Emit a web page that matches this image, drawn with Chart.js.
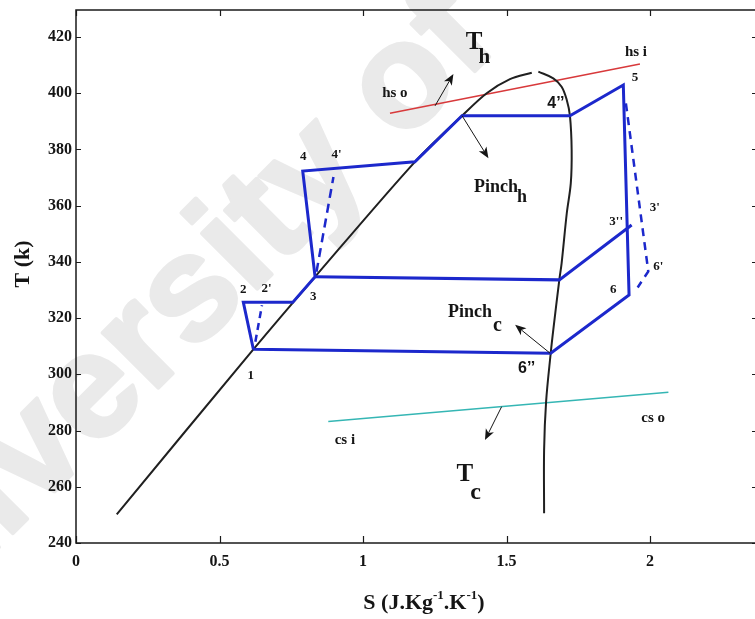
<!DOCTYPE html>
<html>
<head>
<meta charset="utf-8">
<title>T-S diagram</title>
<script src="https://cdn.jsdelivr.net/npm/chart.js@4.4.1/dist/chart.umd.min.js"></script>
<style>
  html, body { margin: 0; padding: 0; background: #fff; overflow: hidden; width: 755px; height: 619px; }
  canvas { display: block; }
</style>
</head>
<body>
<canvas id="ts" width="760" height="619" style="width:760px;height:619px"></canvas>
<script>
// ---- saturation dome ----
const liquidS = [0.142, 0.618, 0.833, 1.181, 1.345, 1.431, 1.512, 1.588];
const liquidT = [250.2, 308.9, 334.7, 375.6, 392.0, 400.0, 405.0, 407.3];
const vapourS = [1.611, 1.663, 1.692, 1.710, 1.721, 1.727, 1.724, 1.710, 1.692, 1.684, 1.663, 1.654, 1.638, 1.631, 1.631];
const vapourT = [407.7, 405.3, 402.3, 397.6, 392.0, 379.8, 368.0, 357.3, 339.5, 333.6, 315.8, 307.5, 290.3, 273.1, 250.6];

// ---- working-fluid cycle: 1 -> 2 -> 3 -> 4 -> 4'' -> 5 -> 6 -> 6'' -> 1 ----
const cycleS = [0.618, 0.583, 0.755, 0.833, 0.790, 1.181, 1.345, 1.721, 1.907, 1.927, 1.654, 0.618];
const cycleT = [308.9, 325.6, 325.6, 334.7, 372.3, 375.6, 392.0, 392.0, 402.9, 328.2, 307.5, 308.9];
// intermediate branch 3 -> 3''
const branchS = [0.833, 1.684, 1.936];
const branchT = [334.7, 333.6, 353.1];
// isentropic (ideal) paths
const ideal2S = [0.625, 0.648];
const ideal2T = [311.6, 324.6];
const ideal4S = [0.838, 0.897];
const ideal4T = [336.5, 370.2];
const ideal6S = [1.916, 1.994, 1.957];
const ideal6T = [396.4, 336.6, 330.9];

// ---- heat source and cooling stream ----
const hotS = [1.094, 1.965];
const hotT = [392.9, 410.4];
const coldS = [0.879, 2.064];
const coldT = [283.2, 293.6];

// ---- direction arrows (tail -> head) ----
const arrowTailS = [1.251, 1.345, 1.652, 1.483];
const arrowTailT = [395.5, 392.0, 307.5, 288.5];
const arrowHeadS = [1.315, 1.437, 1.530, 1.425];
const arrowHeadT = [406.8, 376.9, 317.6, 276.6];

// ---- axis ticks ----
const sTicks = [0, 0.5, 1, 1.5, 2];
const sTickLabels = ['0', '0.5', '1', '1.5', '2'];
const tTicks = [240, 260, 280, 300, 320, 340, 360, 380, 400, 420];
const tTickLabels = ['240', '260', '280', '300', '320', '340', '360', '380', '400', '420'];

// ---- state labels ----
const stateNames = ['1', '2', "2'", '3', '4', "4'", '5', '6', "3'", "3''", "6'", 'hs o', 'hs i', 'cs i', 'cs o'];
const stateNameS = [0.609, 0.583, 0.664, 0.827, 0.792, 0.908, 1.948, 1.872, 2.017, 1.882, 2.029, 1.111, 1.951, 0.937, 2.011];
const stateNameT = [299.4, 330.0, 330.6, 327.6, 377.4, 378.0, 405.7, 330.0, 359.4, 354.3, 338.3, 399.9, 414.5, 276.6, 284.4];
const pinchNames = ['4\u2019\u2019', '6\u2019\u2019'];
const pinchNameS = [1.672, 1.570];
const pinchNameT = [396.2, 302.1];
// labels with a subscript: main text, subscript
const subMain = ['T', 'Pinch', 'Pinch', 'T'];
const subText = ['h', 'h', 'c', 'c'];
const subS = [1.387, 1.463, 1.373, 1.355];
const subT = [418.0, 366.6, 322.0, 264.2];

const SERIF = '"Liberation Serif", "Times New Roman", serif';
const SANS = '"Liberation Sans", Arial, sans-serif';
const BLUE = '#1c28cc';
const INK = '#151515';

const toPoints = (xs, ys) => xs.map((x, i) => ({ x, y: ys[i] }));

function lineSet(label, xs, ys, color, width, extra) {
  return Object.assign({
    label, data: toPoints(xs, ys), showLine: true, borderColor: color,
    backgroundColor: color, borderWidth: width, pointRadius: 0,
    pointHoverRadius: 0, fill: false, tension: 0
  }, extra || {});
}

// faint background watermark, painted before scales and data
const watermark = {
  id: 'watermark',
  beforeDraw(chart) {
    const ctx = chart.ctx;
    ctx.save();
    ctx.translate(-134, 680);
    ctx.rotate(-45 * Math.PI / 180);
    ctx.font = 'bold 148px "Liberation Sans", Arial, sans-serif';
    ctx.fillStyle = '#eaeaea';
    ctx.strokeStyle = '#eaeaea';
    ctx.lineWidth = 4;
    ctx.lineJoin = 'round';
    ctx.textBaseline = 'alphabetic';
    ctx.strokeText('University of', 0, 0);
    ctx.fillText('University of', 0, 0);
    ctx.restore();
  }
};

// frame with inward tick marks
const frame = {
  id: 'frame',
  afterDraw(chart) {
    const { ctx, chartArea: a, scales: { x, y } } = chart;
    ctx.save();
    ctx.strokeStyle = '#1a1a1a';
    ctx.lineWidth = 1.5;
    ctx.strokeRect(a.left, a.top, a.right - a.left, a.bottom - a.top);
    ctx.lineWidth = 1.2;
    ctx.beginPath();
    x.ticks.forEach(t => {
      const px = Math.round(x.getPixelForValue(t.value)) + 0.5;
      ctx.moveTo(px, a.bottom); ctx.lineTo(px, a.bottom - 7);
      ctx.moveTo(px, a.top); ctx.lineTo(px, a.top + 6);
    });
    y.ticks.forEach(t => {
      const py = Math.round(y.getPixelForValue(t.value)) + 0.5;
      ctx.moveTo(a.left, py); ctx.lineTo(a.left + 5, py);
      ctx.moveTo(a.right, py); ctx.lineTo(a.right - 5, py);
    });
    ctx.stroke();
    ctx.restore();
  }
};

function drawRich(ctx, parts, cx, cy) {
  let total = 0;
  parts.forEach(p => { ctx.font = p.font; p.w = ctx.measureText(p.text).width; total += p.w; });
  let xx = cx - total / 2;
  parts.forEach(p => {
    ctx.font = p.font;
    ctx.fillText(p.text, xx, cy + (p.dy || 0));
    xx += p.w;
  });
}

// arrows, labels and axis titles
const notes = {
  id: 'notes',
  afterDatasetsDraw(chart) {
    const { ctx, scales: { x, y } } = chart;
    ctx.save();
    // arrows
    ctx.strokeStyle = INK;
    ctx.fillStyle = INK;
    ctx.lineWidth = 1;
    arrowTailS.forEach((s0, i) => {
      const x0 = x.getPixelForValue(s0), y0 = y.getPixelForValue(arrowTailT[i]);
      const x1 = x.getPixelForValue(arrowHeadS[i]), y1 = y.getPixelForValue(arrowHeadT[i]);
      const ang = Math.atan2(y1 - y0, x1 - x0);
      const L = 11, W = 4.5, N = 3;
      const bx = x1 - L * Math.cos(ang), by = y1 - L * Math.sin(ang);
      ctx.beginPath();
      ctx.moveTo(x0, y0);
      ctx.lineTo(x1 - (L - N) * Math.cos(ang), y1 - (L - N) * Math.sin(ang));
      ctx.stroke();
      ctx.beginPath();
      ctx.moveTo(x1, y1);
      ctx.lineTo(bx - W * Math.sin(ang), by + W * Math.cos(ang));
      ctx.lineTo(x1 - (L - N) * Math.cos(ang), y1 - (L - N) * Math.sin(ang));
      ctx.lineTo(bx + W * Math.sin(ang), by - W * Math.cos(ang));
      ctx.closePath();
      ctx.fill();
    });

    ctx.textAlign = 'center';
    ctx.textBaseline = 'middle';
    ctx.fillStyle = INK;
    stateNames.forEach((txt, i) => {
      const big = txt.length > 3;
      ctx.font = 'bold ' + (big ? 15 : 13) + 'px ' + SERIF;
      ctx.fillText(txt, x.getPixelForValue(stateNameS[i]), y.getPixelForValue(stateNameT[i]));
    });
    ctx.font = 'bold 16px ' + SANS;
    pinchNames.forEach((txt, i) => {
      ctx.fillText(txt, x.getPixelForValue(pinchNameS[i]), y.getPixelForValue(pinchNameT[i]));
    });

    // subscripted labels
    const mainSize = [25, 18, 18, 25];
    const subSize = [21, 18, 20, 24];
    const subDx = [-4, -1, 1, -3];
    const subDy = [15, 10, 13, 18];
    ctx.textAlign = 'left';
    subMain.forEach((txt, i) => {
      const cx = x.getPixelForValue(subS[i]), cy = y.getPixelForValue(subT[i]);
      ctx.font = 'bold ' + mainSize[i] + 'px ' + SERIF;
      const w = ctx.measureText(txt).width;
      ctx.fillText(txt, cx - w / 2, cy);
      ctx.font = 'bold ' + subSize[i] + 'px ' + SERIF;
      ctx.fillText(subText[i], cx + w / 2 + subDx[i], cy + subDy[i]);
    });

    // axis titles
    ctx.textAlign = 'left';
    ctx.textBaseline = 'middle';
    const big = 'bold 22px ' + SERIF, small = 'bold 13px ' + SERIF;
    drawRich(ctx, [
      { text: 'S (J.Kg', font: big },
      { text: '-1', font: small, dy: -7 },
      { text: '.K', font: big },
      { text: '-1', font: small, dy: -7 },
      { text: ')', font: big }
    ], 424, 603);
    ctx.translate(23.5, 264);
    ctx.rotate(-Math.PI / 2);
    ctx.textAlign = 'center';
    ctx.font = big;
    ctx.fillText('T (k)', 0, 0);
    ctx.restore();
  }
};

const tickFont = { family: SERIF, size: 16, weight: 'bold' };

new Chart(document.getElementById('ts'), {
  type: 'scatter',
  data: {
    datasets: [
      lineSet('cycle', cycleS, cycleT, BLUE, 3, { borderJoinStyle: 'miter' }),
      lineSet('3 - 3\'\'', branchS, branchT, BLUE, 3),
      lineSet('2 ideal', ideal2S, ideal2T, BLUE, 2.5, { borderDash: [7, 5] }),
      lineSet('4 ideal', ideal4S, ideal4T, BLUE, 2.5, { borderDash: [9, 6] }),
      lineSet('6 ideal', ideal6S, ideal6T, BLUE, 2.5, { borderDash: [8, 6] }),
      lineSet('saturated liquid', liquidS, liquidT, '#202020', 2, { tension: 0.3 }),
      lineSet('saturated vapour', vapourS, vapourT, '#202020', 2, { tension: 0.35 }),
      lineSet('hs', hotS, hotT, '#d8393b', 1.5),
      lineSet('cs', coldS, coldT, '#35b6b4', 1.5)
    ]
  },
  options: {
    responsive: false,
    animation: false,
    devicePixelRatio: 1,
    events: [],
    layout: { padding: { left: 0, top: 10, right: 3, bottom: 0 } },
    plugins: { legend: { display: false }, tooltip: { enabled: false } },
    scales: {
      x: {
        type: 'linear', position: 'bottom', min: 0, max: 2.3728,
        afterBuildTicks: s => { s.ticks = sTicks.map(v => ({ value: v })); },
        afterFit: s => { s.height = 76; s.paddingLeft = 0; s.paddingRight = 0; },
        grid: { display: false, drawTicks: false },
        border: { display: false },
        ticks: {
          font: tickFont, color: INK, padding: 9, maxRotation: 0, autoSkip: false,
          callback: (v, i) => sTickLabels[i]
        }
      },
      y: {
        type: 'linear', position: 'left', min: 240, max: 429.6,
        afterBuildTicks: s => { s.ticks = tTicks.map(v => ({ value: v })); },
        afterFit: s => { s.width = 76; s.paddingTop = 0; s.paddingBottom = 0; },
        grid: { display: false, drawTicks: false },
        border: { display: false },
        ticks: {
          font: tickFont, color: INK, padding: 4, autoSkip: false,
          callback: (v, i) => tTickLabels[i]
        }
      }
    }
  },
  plugins: [watermark, frame, notes]
});
</script>
</body>
</html>
